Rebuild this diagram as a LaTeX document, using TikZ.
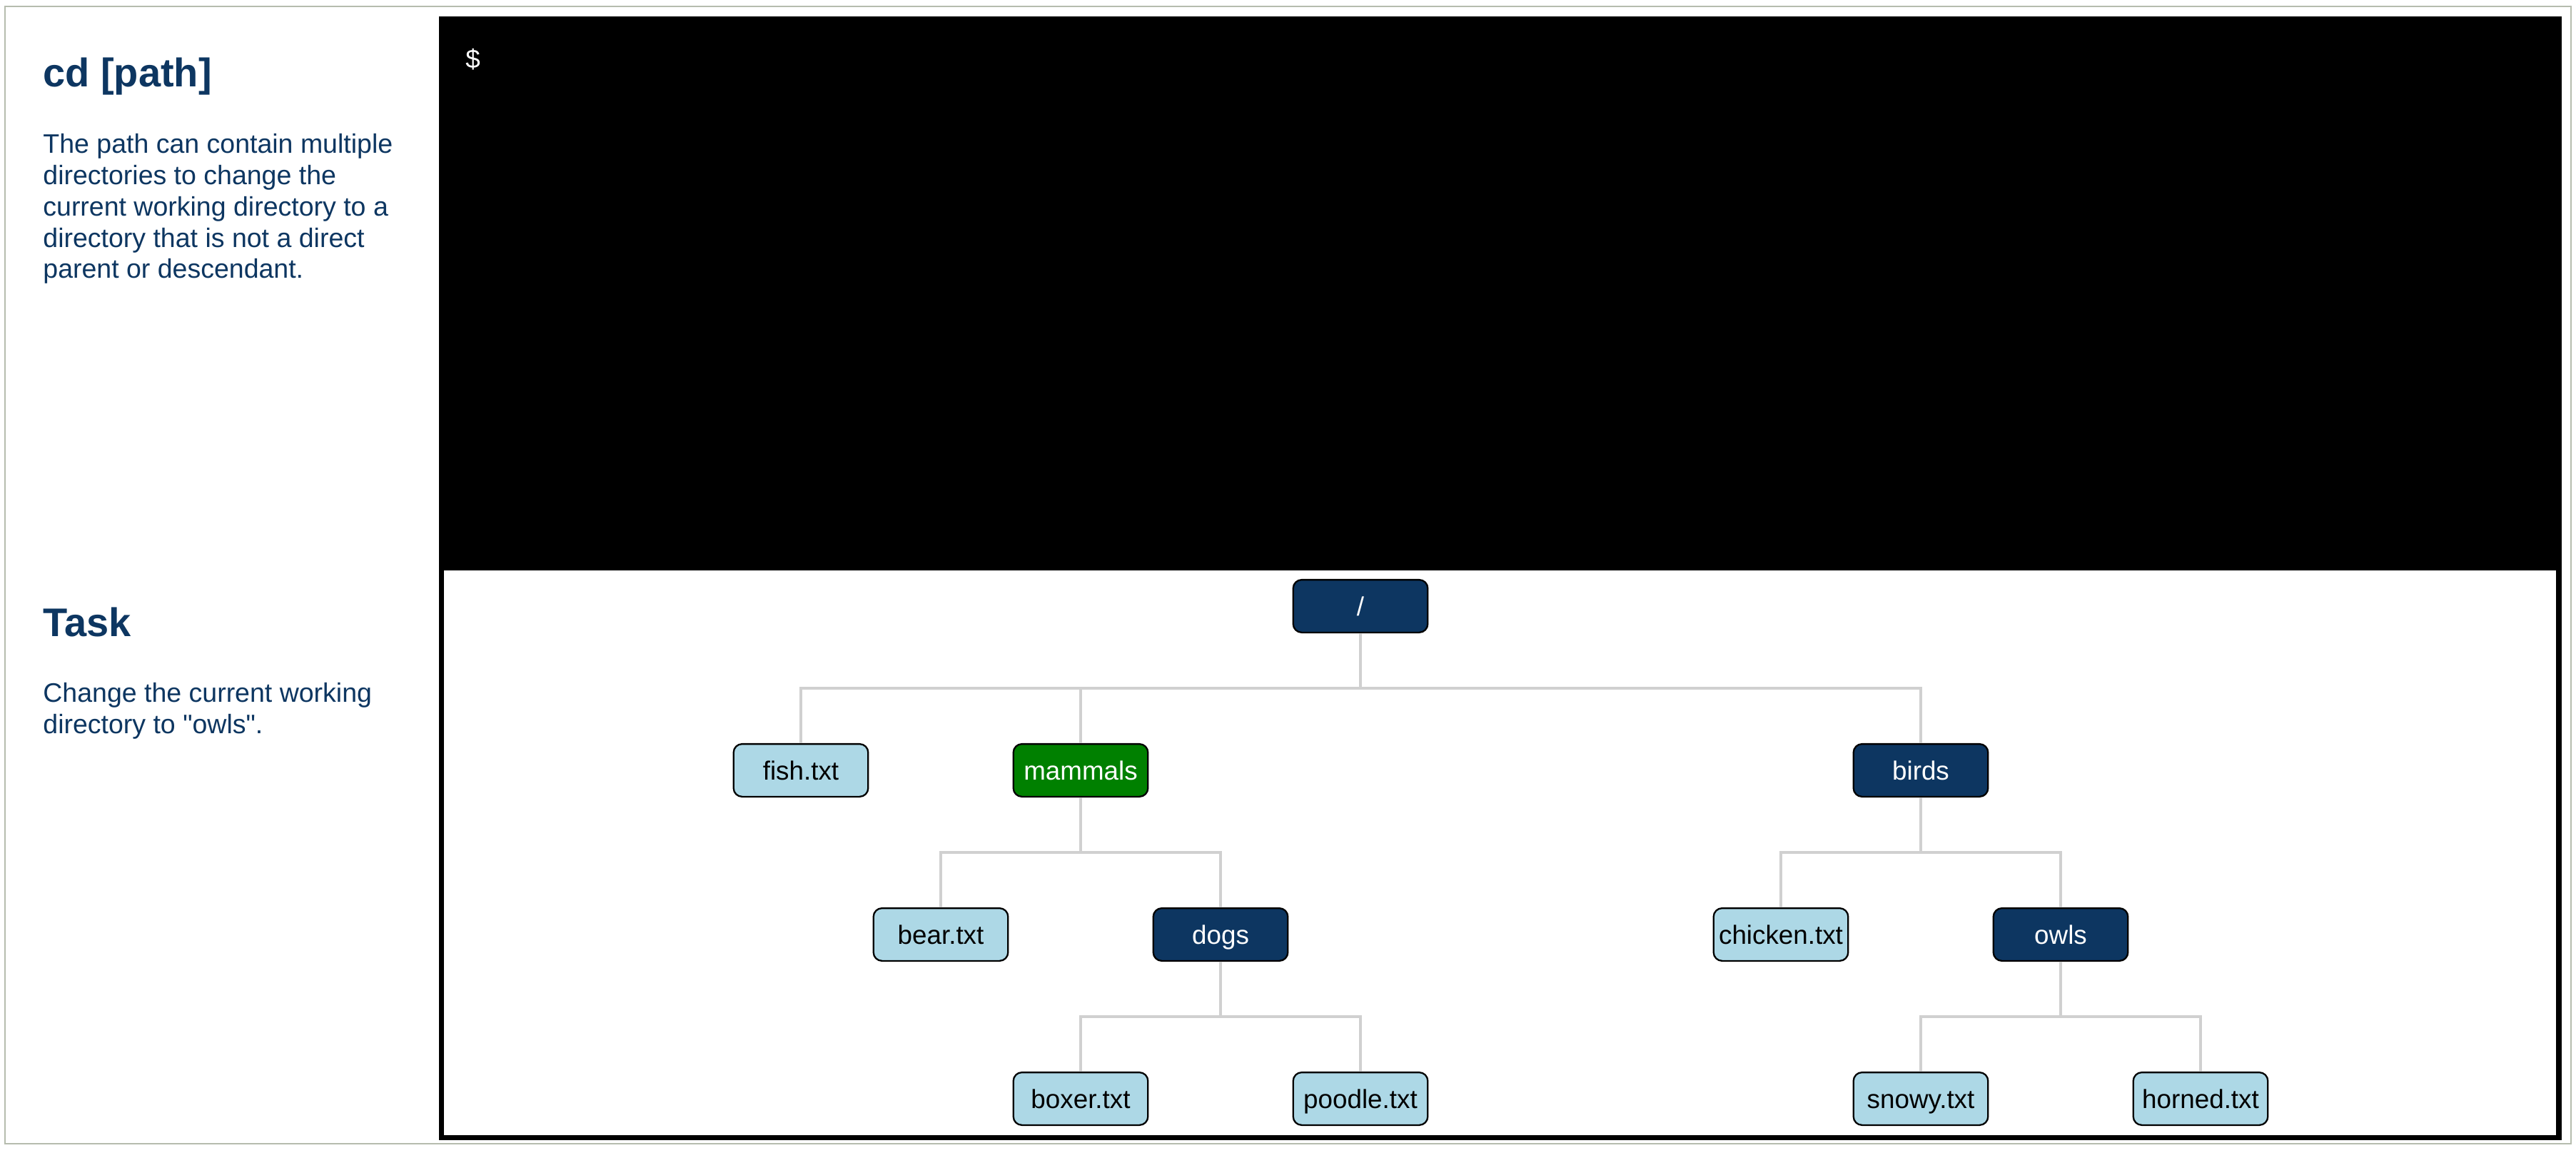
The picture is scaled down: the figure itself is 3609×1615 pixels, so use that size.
\documentclass[tikz,border=0pt]{standalone}
\usepackage{fontspec}
\setmainfont{Liberation Sans}[Ligatures=TeXOff]
\definecolor{navy}{RGB}{13,54,97}
\definecolor{filebg}{RGB}{173,216,230}
\definecolor{curbg}{RGB}{0,128,0}
\definecolor{conncol}{RGB}{208,208,208}
\definecolor{framecol}{RGB}{182,188,174}
\begin{document}
\begin{tikzpicture}[x=0.5pt,y=-0.5pt,
  box/.style={rounded corners=6pt, draw=black, line width=1.15pt,
    minimum width=94.3pt, minimum height=36.9pt, inner sep=0pt,
    text height=13pt, text depth=0pt, font=\fontsize{18.4pt}{20pt}\selectfont},
  dirbox/.style={box, fill=navy, text=white},
  filebox/.style={box, fill=filebg, text=black},
  curbox/.style={box, fill=curbg, text=white},
  conn/.style={draw=conncol, line width=2.4pt},
  titletext/.style={anchor=base west, inner sep=0pt, text=navy, font=\fontsize{28pt}{30pt}\selectfont\bfseries},
  bodytext/.style={anchor=base west, inner sep=0pt, text=navy, font=\fontsize{18.75pt}{21.9pt}\selectfont}]
\useasboundingbox (0,0) rectangle (3609,1615);
\fill[white] (0,0) rectangle (3609,1615);
\draw[framecol, line width=1pt] (7,9) rectangle (3602,1602);
% terminal + tree panel
\fill[black] (615,23) rectangle (3589,1597);
\fill[white] (622,799) rectangle (3581,1590);
\node[anchor=base west, inner sep=0pt, text=white, font=\fontsize{18.4pt}{20pt}\selectfont] (prompt) at (652,96) {\$};
% left texts
\node[titletext] (t1) at (60,122) {cd [path]};
\node[bodytext] (b1) at (60,215) {The path can contain multiple};
\node[bodytext] (b2) at (60,258.75) {directories to change the};
\node[bodytext] (b3) at (60,302.5) {current working directory to a};
\node[bodytext] (b4) at (60,346.25) {directory that is not a direct};
\node[bodytext] (b5) at (60,390) {parent or descendant.};
\node[titletext] (t2) at (60,891) {Task};
\node[bodytext] (c1) at (60,983) {Change the current working};
\node[bodytext] (c2) at (60,1027) {directory to "owls".};
% tree nodes
\node[dirbox] (root) at (1906,849) {/};
\node[filebox] (fish) at (1122,1079) {fish.txt};
\node[curbox] (mammals) at (1514,1079) {mammals};
\node[dirbox] (birds) at (2691,1079) {birds};
\node[filebox] (bear) at (1318,1309) {bear.txt};
\node[dirbox] (dogs) at (1710,1309) {dogs};
\node[filebox] (chicken) at (2495,1309) {chicken.txt};
\node[dirbox] (owls) at (2887,1309) {owls};
\node[filebox] (boxer) at (1514,1539) {boxer.txt};
\node[filebox] (poodle) at (1906,1539) {poodle.txt};
\node[filebox] (snowy) at (2691,1539) {snowy.txt};
\node[filebox] (horned) at (3083,1539) {horned.txt};
% connectors
\foreach \p/\c in {root/fish, root/mammals, root/birds, mammals/bear, mammals/dogs,
  birds/chicken, birds/owls, dogs/boxer, dogs/poodle, owls/snowy, owls/horned}
  \draw[conn] (\p.south) -- ++(0,77) -| (\c.north);
\end{tikzpicture}
\end{document}
